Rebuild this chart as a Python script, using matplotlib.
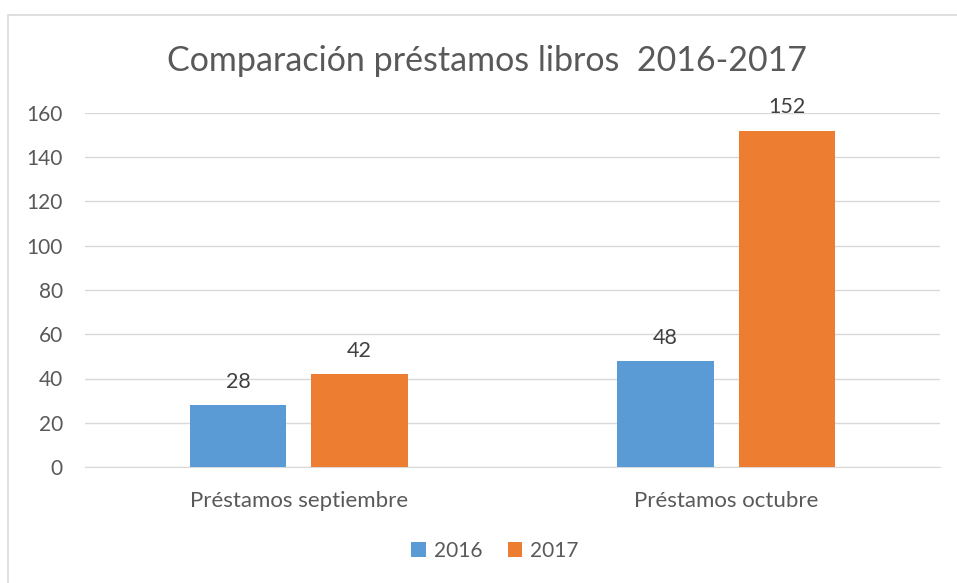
import matplotlib.pyplot as plt
import numpy as np
from matplotlib.patches import Rectangle

plt.rcParams['font.family'] = ['Lato', 'DejaVu Sans']

categorias = ["Préstamos septiembre", "Préstamos octubre"]
anios = ["2016", "2017"]
valores_2016 = [28, 48]
valores_2017 = [42, 152]
colores = ['#5b9bd5', '#ed7d31']
gris = '#595959'


def main():
    fig = plt.figure(figsize=(9.57, 5.83), dpi=100)
    # marco del gráfico
    fig.add_artist(Rectangle((8 / 957, -0.1), 1.1, 1.1 - 15 / 583, transform=fig.transFigure,
                             fill=False, edgecolor='#d9d9d9', linewidth=1.2))

    ax = fig.add_axes([85 / 957, 1 - 467 / 583, 855 / 957, 354 / 583])
    x = np.arange(len(categorias))
    ancho = 0.225
    b1 = ax.bar(x - 0.142, valores_2016, ancho, color=colores[0], label=anios[0], zorder=3)
    b2 = ax.bar(x + 0.142, valores_2017, ancho, color=colores[1], label=anios[1], zorder=3)

    for bars in (b1, b2):
        for bar in bars:
            h = bar.get_height()
            ax.text(bar.get_x() + bar.get_width() / 2, h + 6, f"{h:g}",
                    ha='center', va='bottom', fontsize=15.5, color='#404040')

    ax.set_xlim(-0.5, 1.5)
    ax.set_ylim(0, 160)
    ax.set_yticks(range(0, 161, 20))
    ax.set_xticks(x)
    ax.set_xticklabels(categorias, fontsize=16)
    ax.grid(axis='y', color='#d9d9d9', linewidth=1, zorder=0)
    for s in ['top', 'right', 'left']:
        ax.spines[s].set_visible(False)
    ax.spines['bottom'].set_color('#d9d9d9')
    ax.tick_params(axis='y', length=0, labelsize=15, labelcolor=gris, pad=16)
    ax.tick_params(axis='x', length=0, labelcolor=gris, pad=17)

    fig.text(487 / 957, 1 - 61 / 583, "Comparación préstamos libros  2016-2017",
             ha='center', va='center', fontsize=24.5, color=gris)

    fig.legend(loc='center', bbox_to_anchor=(495 / 957, 1 - 551 / 583), ncol=2, frameon=False,
               fontsize=15, labelcolor=gris, handlelength=0.7, handleheight=0.7,
               handletextpad=0.4, columnspacing=1.2)

    fig.savefig("out.png", dpi=100)


if __name__ == "__main__":
    main()
